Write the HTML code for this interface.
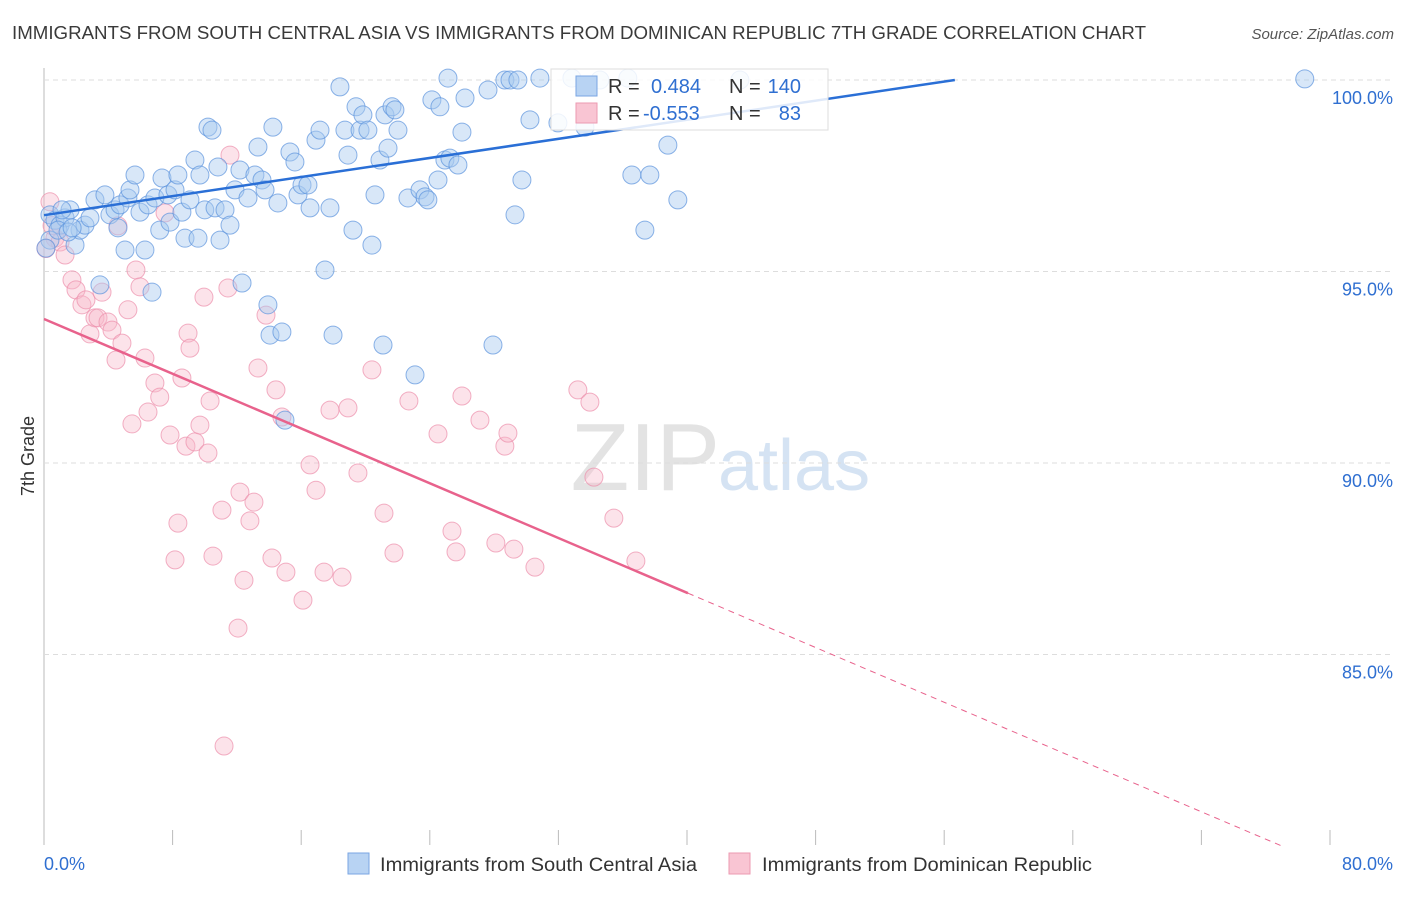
<!DOCTYPE html>
<html><head><meta charset="utf-8"><style>
body{margin:0;background:#fff;font-family:"Liberation Sans",sans-serif}
svg text{font-family:"Liberation Sans",sans-serif}
</style></head><body>
<svg id="c" width="1406" height="892" xmlns="http://www.w3.org/2000/svg">
<text x="12" y="39" font-size="18" fill="#3a3a3a" textLength="1134" lengthAdjust="spacingAndGlyphs">IMMIGRANTS FROM SOUTH CENTRAL ASIA VS IMMIGRANTS FROM DOMINICAN REPUBLIC 7TH GRADE CORRELATION CHART</text>
<text x="1394" y="39" font-size="15" fill="#555" text-anchor="end" font-style="italic">Source: ZipAtlas.com</text>
<text x="720" y="490" font-size="96" fill="#e3e3e3" text-anchor="end" font-family="Liberation Serif">ZIP</text>
<text x="718" y="490" font-size="72" fill="#d5e3f3">atlas</text>
<text transform="translate(34,456) rotate(-90)" font-size="18" fill="#333" text-anchor="middle">7th Grade</text>
<g id="grid"></g><g id="pts"></g><g id="lines"></g>
<g>
<rect x="551" y="69" width="277" height="61" fill="#fff" fill-opacity="0.85" stroke="#ddd"/>
<rect x="576" y="76" width="21" height="20" fill="#b8d3f3" stroke="#7aa6e3"/>
<rect x="576" y="103" width="21" height="20" fill="#f9c5d3" stroke="#ec9ab2"/>
<text x="608" y="93" font-size="20" fill="#333">R =</text>
<text x="651" y="93" font-size="20" fill="#2f6fd1">0.484</text>
<text x="729" y="93" font-size="20" fill="#333">N =</text>
<text x="801" y="93" font-size="20" fill="#2f6fd1" text-anchor="end">140</text>
<text x="608" y="120" font-size="20" fill="#333">R =</text>
<text x="643" y="120" font-size="20" fill="#2f6fd1">-0.553</text>
<text x="729" y="120" font-size="20" fill="#333">N =</text>
<text x="801" y="120" font-size="20" fill="#2f6fd1" text-anchor="end">83</text>
</g>
<g>
<rect x="348" y="853" width="21" height="21" fill="#b8d3f3" stroke="#7aa6e3"/>
<text x="380" y="871" font-size="19" fill="#333" textLength="317" lengthAdjust="spacingAndGlyphs">Immigrants from South Central Asia</text>
<rect x="729" y="853" width="21" height="21" fill="#f9c5d3" stroke="#ec9ab2"/>
<text x="762" y="871" font-size="19" fill="#333" textLength="330" lengthAdjust="spacingAndGlyphs">Immigrants from Dominican Republic</text>
</g>
</svg>
<script>
const yTicks=[100,95,90,85];
const yTickLabels=["100.0%","95.0%","90.0%","85.0%"];
const xTicks=[0,8,16,24,32,40,48,56,64,72,80];
const xEndLabels=["0.0%","80.0%"];
const blueX=[0.37,0.68,1.0,1.31,1.62,1.93,2.24,2.55,2.86,3.17,3.48,3.79,4.1,4.42,4.6,4.73,5.04,5.22,5.35,5.66,5.97,6.28,6.47,6.72,6.9,7.2,7.34,7.71,7.84,8.15,8.33,8.58,8.77,9.08,9.39,9.58,9.7,10.0,10.2,10.45,10.64,10.82,10.95,11.26,11.57,11.88,12.19,12.32,12.69,13.12,13.31,13.56,13.75,13.93,14.06,14.24,14.55,14.8,14.99,15.3,15.61,15.8,16.05,16.42,16.55,16.92,17.17,17.48,17.79,17.98,18.41,18.72,18.91,19.22,19.41,19.66,19.84,20.15,20.4,20.59,20.9,21.09,21.21,21.4,21.65,21.83,22.02,22.64,23.08,23.39,23.7,23.88,24.13,24.51,24.63,24.94,25.13,25.25,25.75,26.0,26.19,27.62,27.93,28.67,28.99,29.3,29.48,29.73,30.23,30.85,31.97,32.84,33.65,34.58,36.32,36.57,37.38,37.69,38.81,39.43,43.29,78.43,0.37,0.87,1.12,1.5,1.75,0.12];
const blueY=[96.48,96.34,96.21,96.4,96.61,95.69,96.08,96.21,96.4,96.87,94.65,97.0,96.48,96.61,96.14,96.74,95.56,96.92,97.13,97.52,96.55,95.56,96.74,94.46,96.92,96.08,97.44,97.0,96.29,97.13,97.52,96.55,95.87,96.87,97.91,95.87,97.52,96.61,98.77,98.69,96.66,97.73,95.82,96.61,96.21,97.13,97.65,94.7,96.92,97.52,98.25,97.39,97.13,94.13,93.34,98.77,96.79,93.42,91.12,98.12,97.86,97.0,97.26,97.26,96.66,98.43,98.69,95.04,96.66,93.34,99.82,98.69,98.04,96.08,99.3,98.69,99.09,98.69,95.69,97.0,97.91,93.08,99.09,98.22,99.3,99.22,98.69,96.92,92.3,97.13,96.95,96.87,99.48,97.39,99.3,97.91,100.05,97.96,97.78,98.64,99.53,99.74,93.08,100,100,96.48,100,97.39,98.96,100.05,98.88,100.05,98.77,100,100.05,97.52,96.08,97.52,98.3,96.87,100,100.03,95.82,96.08,96.61,96.03,96.14,95.61];
const pinkX=[0.37,0.68,1.0,1.31,1.74,1.99,2.36,2.61,2.86,3.17,3.36,3.61,3.98,4.23,4.48,4.6,4.85,5.22,5.47,5.72,5.97,6.28,6.47,6.9,7.2,7.53,7.84,8.15,8.33,8.58,8.83,8.96,9.08,9.39,9.7,9.95,10.2,10.33,10.51,11.07,11.2,11.44,11.57,12.07,12.19,12.44,12.81,13.06,13.31,13.81,14.18,14.43,14.8,15.05,16.11,16.55,16.92,17.42,17.79,18.54,18.91,19.53,20.4,21.15,21.77,22.7,24.51,25.38,25.63,26.0,27.12,28.11,28.67,28.86,29.23,30.54,33.21,33.96,34.21,35.45,36.82,0.12,0.5];
const pinkY=[96.82,95.87,95.77,95.43,94.78,94.52,94.13,94.26,93.37,93.79,93.79,94.46,93.68,93.47,92.69,96.19,93.13,94.0,91.02,95.04,94.6,92.74,91.33,92.09,91.72,96.53,90.73,87.47,88.43,92.22,90.44,93.39,93.0,90.55,90.99,94.33,90.26,91.62,87.57,88.77,82.61,94.57,98.04,85.69,89.24,86.94,88.49,88.98,92.48,93.86,87.52,91.91,91.2,87.15,86.42,89.95,89.29,87.15,91.38,87.02,91.44,89.74,92.43,88.69,87.65,91.62,90.76,88.22,87.68,91.75,91.12,87.91,90.44,90.78,87.75,87.28,91.91,91.59,89.63,88.56,87.44,95.6,96.2];
const blueFit=[96.47,0.0623];
const pinkFit=[93.76,-0.1787];
const X=v=>44+v*16.075, Y=v=>80+(100-v)*38.3;
const NS="http://www.w3.org/2000/svg";
function mk(tag,attrs,parent){const e=document.createElementNS(NS,tag);for(const k in attrs)e.setAttribute(k,attrs[k]);parent.appendChild(e);return e;}
const grid=document.getElementById('grid'),pts=document.getElementById('pts'),lines=document.getElementById('lines');
let e=mk('line',{x1:44,y1:68,x2:44,y2:845,stroke:'#bbb'},grid);


yTicks.forEach((t,i)=>{
 let g=mk('line',{x1:44,x2:1394,y1:Y(t),y2:Y(t),stroke:'#ddd','stroke-dasharray':'5,4'},grid);
 
 
 let l=mk('text',{x:1393,y:Y(t)+24,'font-size':18,fill:'#2f6fd1','text-anchor':'end'},grid);l.textContent=yTickLabels[i];
 
 
});
xTicks.forEach(t=>{
 let k=mk('line',{x1:X(t),x2:X(t),y1:830,y2:845,stroke:'#bbb'},grid);
 
 
});
let a=mk('text',{x:44,y:870,'font-size':18,fill:'#2f6fd1'},grid);a.textContent=xEndLabels[0];


let b=mk('text',{x:1393,y:870,'font-size':18,fill:'#2f6fd1','text-anchor':'end'},grid);b.textContent=xEndLabels[1];


pinkX.forEach((x,i)=>{
 let c=mk('circle',{cx:X(x),cy:Y(pinkY[i]),r:9,fill:'#f7b8cb','fill-opacity':0.4,stroke:'#ec8fab','stroke-opacity':0.7},pts);
 
 
});
blueX.forEach((x,i)=>{
 let c=mk('circle',{cx:X(x),cy:Y(blueY[i]),r:9,fill:'#a9c9f0','fill-opacity':0.45,stroke:'#5b93dd','stroke-opacity':0.7},pts);
 
 
});
const bx2=(100-blueFit[0])/blueFit[1];
let bl=mk('line',{x1:X(0),y1:Y(blueFit[0]),x2:X(bx2),y2:Y(100),stroke:'#2a6fd6','stroke-width':2.5},lines);


const ps=40.06, pe=(pinkFit[0]-80)/(-pinkFit[1]);
let pl=mk('line',{x1:X(0),y1:Y(pinkFit[0]),x2:X(ps),y2:Y(pinkFit[0]+pinkFit[1]*ps),stroke:'#e8628c','stroke-width':2.5},lines);


let pd=mk('line',{x1:X(ps),y1:Y(pinkFit[0]+pinkFit[1]*ps),x2:X(pe),y2:Y(80),stroke:'#e8628c','stroke-width':1,'stroke-dasharray':'6,5'},lines);


</script>
</body></html>
